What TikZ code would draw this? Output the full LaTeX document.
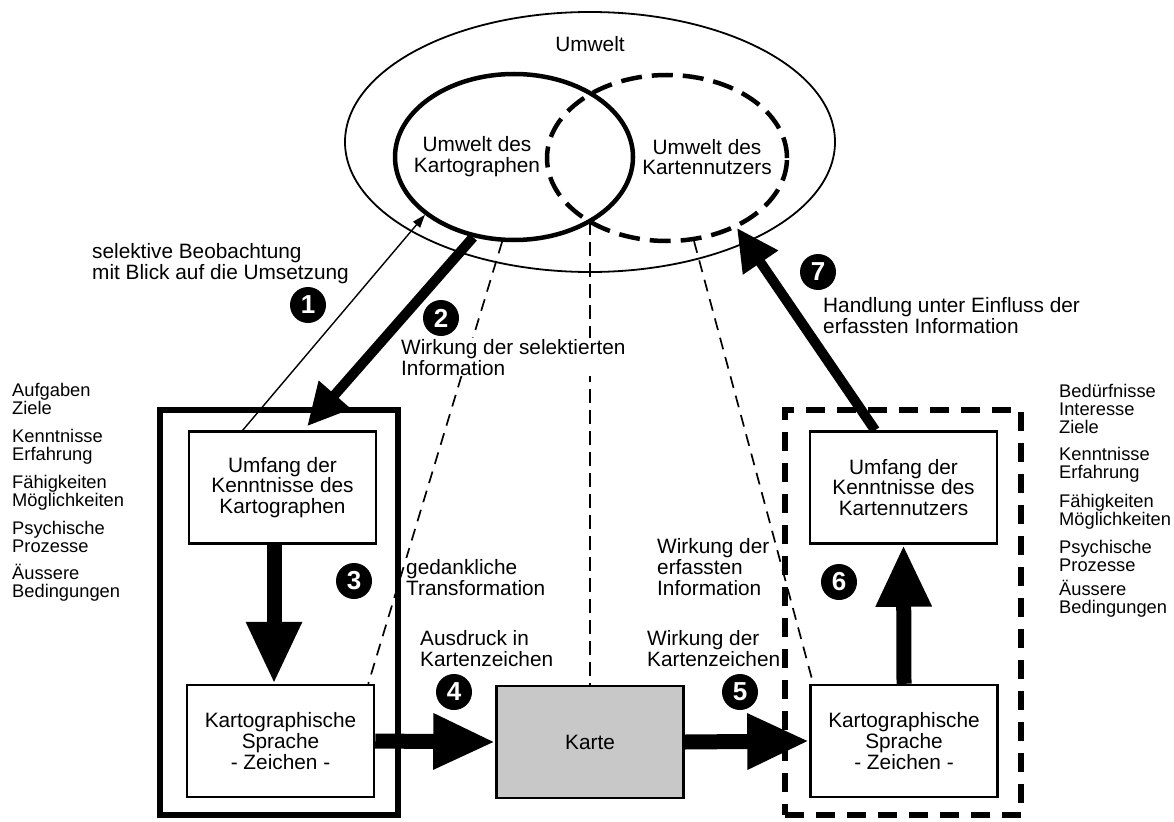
\documentclass[tikz,border=0pt]{standalone}
\usepackage{fontspec}
\setmainfont{Liberation Sans}
\usetikzlibrary{arrows.meta,shapes.geometric,calc}
\definecolor{mapgray}{RGB}{200,200,200}
\tikzset{
  txt/.style={font=\fontsize{20.8}{20.8}\selectfont, inner sep=0pt},
  % multi-line labels are placed by the baseline of their last line
  lbl/.style={txt, align=left, anchor=base west},
  maskedlbl/.style={lbl, fill=white, inner sep=1pt},
  listtxt/.style={font=\fontsize{18.3}{18}\selectfont, inner sep=0pt, align=left, anchor=base west},
  stagebox/.style={txt, draw, line width=2.5pt, minimum width=187pt, minimum height=112pt, align=center},
  num/.style={circle, fill=black, text=white, minimum size=36pt, inner sep=0pt,
    font=\fontsize{26}{26}\bfseries\selectfont},
  envring/.style={ellipse, draw, inner sep=0pt},
  thinlink/.style={line width=1.7pt, dash pattern=on 12pt off 8pt},
  midlink/.style={line width=2.6pt, dash pattern=on 14pt off 7pt},
  bigarrow/.style={line width=15pt, -{Triangle[length=62pt,width=52pt]}},
  medarrow/.style={line width=10pt, -{Triangle[length=42pt,width=40pt]}},
  thinarrow/.style={line width=1.4pt, -{Triangle[length=13pt,width=9pt]}},
}
\begin{document}
\begin{tikzpicture}[x=1pt,y=-1pt]
\useasboundingbox (0,0) rectangle (1174,821);

% environments
\node[envring, line width=1.8pt, minimum width=490pt, minimum height=260pt] (umwelt) at (590,142) {};
\node[txt, anchor=base] (umweltlbl) at (590,52) {Umwelt};
\node[envring, line width=4.5pt, minimum width=238pt, minimum height=166pt] (kart) at (514,157) {};
\node[envring, line width=4.5pt, dash pattern=on 21pt off 10pt, minimum width=240pt, minimum height=166pt] (nutz) at (667,158) {};
\node[txt, align=center] (kartlbl) at (477,157) {Umwelt des\\Kartographen};
\node[txt, align=center] (nutzlbl) at (707,157) {Umwelt des\\Kartennutzers};
\coordinate (overlap) at (590,221);

% frames around the two sides
\node[draw, line width=6pt, minimum width=238pt, minimum height=405pt, inner sep=0pt] (lframe) at (279,612.5) {};
\node[draw, line width=6.5pt, dash pattern=on 19pt off 12pt, minimum width=236pt, minimum height=405pt, inner sep=0pt] (rframe) at (903,612.5) {};

% stages
\node[stagebox] (ukart) at (282.5,487.5) {Umfang der\\Kenntnisse des\\Kartographen};
\node[stagebox] (skart) at (280.5,741) {Kartographische\\Sprache\\- Zeichen -};
\node[stagebox, fill=mapgray] (karte) at (590,742) {Karte};
\node[stagebox] (snutz) at (904,741) {Kartographische\\Sprache\\- Zeichen -};
\node[stagebox] (unutz) at (903.5,487.5) {Umfang der\\Kenntnisse des\\Kartennutzers};

% dashed projections
\draw[thinlink] (kart.262) -- ($(skart.north east)+(-7,0)$);
\draw[midlink] (overlap) -- (karte.north);
\draw[thinlink] (nutz.288) -- ($(snutz.north west)+(4,0)$);

% arrows
\draw[thinarrow] ($(ukart.north west)!0.29!(ukart.north east)$) -- (kart.213);
\draw[medarrow] (kart.243) -- ($(ukart.north west)!0.63!(ukart.north east)+(0,-4)$);
\draw[bigarrow] ($(ukart.south)+(-8.5,0)$) -- ($(skart.north)+(-6.5,0)$);
\draw[bigarrow] (skart.east) -- (karte.west);
\draw[bigarrow] (karte.east) -- (snutz.west);
\draw[bigarrow] (snutz.north) -- (unutz.south);
\draw[medarrow] ($(unutz.north west)!0.35!(unutz.north east)$) -- (nutz.315);

% labels
\node[lbl] (selobs) at (92,279) {selektive Beobachtung\\mit Blick auf die Umsetzung};
\node[maskedlbl] (wsel) at (400,375) {Wirkung der selektierten\\Information};
\node[maskedlbl] (transf) at (405,595) {gedankliche\\Transformation};
\node[maskedlbl] (werf) at (656,595) {Wirkung der\\erfassten\\Information};
\node[lbl] (ausdr) at (420,666) {Ausdruck in\\Kartenzeichen};
\node[lbl] (wkz) at (647,666) {Wirkung der\\Kartenzeichen};
\node[lbl] (handl) at (823,333) {Handlung unter Einfluss der\\erfassten Information};

% conditions lists
\node[listtxt] (lcond) at (12,597) {Aufgaben\\Ziele\\[10pt]Kenntnisse\\Erfahrung\\[10pt]F\"ahigkeiten\\M\"oglichkeiten\\[10pt]Psychische\\Prozesse\\[9pt]\"Aussere\\Bedingungen};
\node[listtxt] (rcond) at (1059,613) {Bed\"urfnisse\\Interesse\\Ziele\\[9pt]Kenntnisse\\Erfahrung\\[11pt]F\"ahigkeiten\\M\"oglichkeiten\\[10pt]Psychische\\Prozesse\\[6pt]\"Aussere\\Bedingungen};

% step numbers
\node[num] (n1) at (308,305) {1};
\node[num] (n2) at (441,318) {2};
\node[num] (n3) at (354,581) {3};
\node[num] (n4) at (454,692) {4};
\node[num] (n5) at (740,692) {5};
\node[num] (n6) at (839,582) {6};
\node[num] (n7) at (818,272) {7};
\end{tikzpicture}
\end{document}
